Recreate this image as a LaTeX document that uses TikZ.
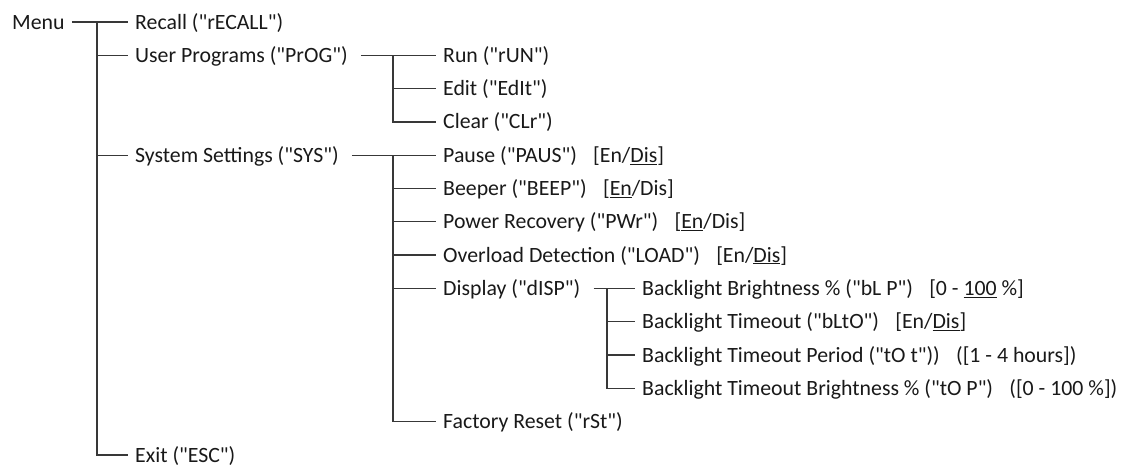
\documentclass[tikz,border=0pt]{standalone}
\usepackage{fontspec}
\setmainfont{Carlito}[Ligatures=TeXOff]
\newcommand{\optgap}{\hspace{0.75em}}
\begin{document}
\begin{tikzpicture}[
    x=1pt, y=-1pt,
    every node/.style={anchor=west, inner xsep=7pt, inner ysep=0pt,
        text height=14pt, text depth=0pt, text=black!90,
        font=\fontsize{21.8}{26}\selectfont},
    edge/.style={line width=1.3pt, draw=black!78},
    lead/.style={edge, shorten <=6pt}
]
\useasboundingbox (0,0) rectangle (1133,466);

\node (menu) at (5,22) {Menu};

\node (recall) at (128,22)    {Recall ("rECALL")};
\node (prog)   at (128,55.3)  {User Programs ("PrOG")};
\node (sys)    at (128,155.2) {System Settings ("SYS")};
\node (esc)    at (128,455)   {Exit ("ESC")};

\node (run)   at (436,55.3)  {Run ("rUN")};
\node (edit)  at (436,88.6)  {Edit ("EdIt")};
\node (clr)   at (436,121.9) {Clear ("CLr")};

\node (paus)  at (436,155.2) {Pause ("PAUS")\optgap[En/\underline{Dis}]};
\node (beep)  at (436,188.5) {Beeper ("BEEP")\optgap[\underline{En}/Dis]};
\node (pwr)   at (436,221.8) {Power Recovery ("PWr")\optgap[\underline{En}/Dis]};
\node (load)  at (436,255.1) {Overload Detection ("LOAD")\optgap[En/\underline{Dis}]};
\node (disp)  at (436,288.4) {Display ("dISP")};
\node (rst)   at (436,421.6) {Factory Reset ("rSt")};

\node (blp)   at (635,288.4) {Backlight Brightness \% ("bL P")\optgap[0 - \underline{100} \%]};
\node (blto)  at (635,321.7) {Backlight Timeout ("bLtO")\optgap[En/\underline{Dis}]};
\node (tot)   at (635,355)   {Backlight Timeout Period ("tO t"))\optgap([1 - 4 hours])};
\node (top)   at (635,388.3) {Backlight Timeout Brightness \% ("tO P")\optgap([0 - 100 \%])};

% buses
\coordinate (b0) at (97,22);
\coordinate (b1) at (393,55.3);
\coordinate (b2) at (393,155.2);
\coordinate (b3) at (607,288.4);

\draw[edge] (menu.east) -- (recall.west);
\draw[edge] (b0) |- (esc.west);
\draw[edge] (b0 |- prog.west) -- (prog.west);
\draw[edge] (b0 |- sys.west) -- (sys.west);

\draw[lead] (prog.east) -- (run.west);
\draw[edge] (b1) |- (clr.west);
\draw[edge] (b1 |- edit.west) -- (edit.west);

\draw[lead] (sys.east) -- (paus.west);
\draw[edge] (b2) |- (rst.west);
\draw[edge] (b2 |- beep.west) -- (beep.west);
\draw[edge] (b2 |- pwr.west) -- (pwr.west);
\draw[edge] (b2 |- load.west) -- (load.west);
\draw[edge] (b2 |- disp.west) -- (disp.west);

\draw[lead] (disp.east) -- (blp.west);
\draw[edge] (b3) |- (top.west);
\draw[edge] (b3 |- blto.west) -- (blto.west);
\draw[edge] (b3 |- tot.west) -- (tot.west);

\end{tikzpicture}
\end{document}
